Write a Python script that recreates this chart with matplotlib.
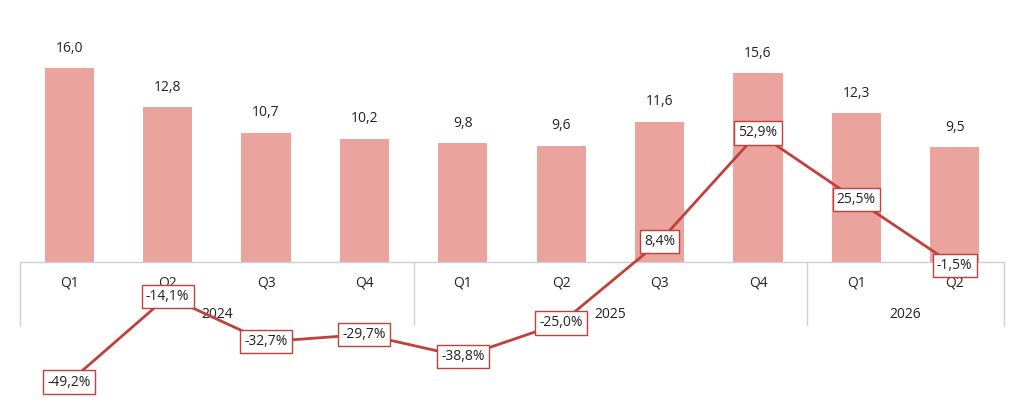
import matplotlib
matplotlib.use("Agg")
import matplotlib.pyplot as plt

quarters = ["Q1","Q2","Q3","Q4","Q1","Q2","Q3","Q4","Q1","Q2"]
years = ["2024","2025","2026"]
year_spans = [(0,3),(4,7),(8,9)]
values = [16.0,12.8,10.7,10.2,9.8,9.6,11.6,15.6,12.3,9.5]
growth = [-49.2,-14.1,-32.7,-29.7,-38.8,-25.0,8.4,52.9,25.5,-1.5]

def fmt(v, d=1):
    return f"{v:.{d}f}".replace(".", ",")

plt.rcParams['font.family'] = ['Open Sans', 'DejaVu Sans']
fig = plt.figure(figsize=(10.24,4.03), dpi=100)
ax = fig.add_axes([20/1024, 0, 984/1024, 1])
x = list(range(len(values)))
ax.bar(x, values, width=0.5, color="#EBA39D", zorder=2)
ax.set_xlim(-0.5, 9.5)
ax.set_ylim(-11.65, 21.65)
ax.axis("off")
for xi, v in zip(x, values):
    ax.annotate(fmt(v), (xi, v), xytext=(0, 9), textcoords="offset points",
                ha="center", va="bottom", fontsize=10, color="#222222")
ax.plot([-0.5, 9.5], [0, 0], color="#D0D0D0", lw=1, clip_on=False)
for xi, q in zip(x, quarters):
    ax.text(xi, -1.74, q, ha="center", va="center", fontsize=10, color="#222222")
for (a, b), yname in zip(year_spans, years):
    ax.text((a+b)/2, -4.3, yname, ha="center", va="center", fontsize=10, color="#222222")
for sx in [-0.5, 3.5, 7.5, 9.5]:
    ax.plot([sx, sx], [0, -5.2], color="#D0D0D0", lw=1, clip_on=False)

ax2 = ax.twinx()
ax2.set_ylim(-57.8, 107.4)
ax2.axis("off")
ax2.plot(x, growth, color="#C0413B", lw=2, zorder=3)
for xi, g in zip(x, growth):
    ax2.text(xi, g, fmt(g) + "%", ha="center", va="center", fontsize=10, color="#222222",
             bbox=dict(boxstyle="square,pad=0.3", fc="white", ec="#C0413B", lw=1), zorder=4)
fig.savefig("out.png", dpi=100)
